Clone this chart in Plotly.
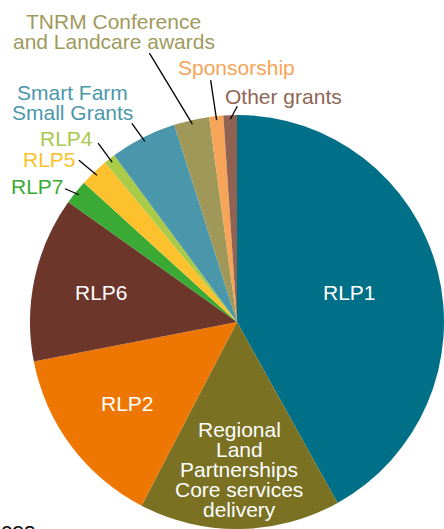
import math
import plotly.graph_objects as go

# ---------------- data ----------------
categories = ["RLP1",
              "Regional Land Partnerships Core services delivery",
              "RLP2", "RLP6", "RLP7", "RLP5", "RLP4",
              "Smart Farm Small Grants",
              "TNRM Conference and Landcare awards",
              "Sponsorship", "Other grants"]
values = [41.9, 15.7, 14.3, 12.9, 1.9, 2.25, 0.9, 5.2, 2.75, 1.1, 1.05]
label_lines = [["RLP1"],
               ["Regional", "Land", "Partnerships", "Core services", "delivery"],
               ["RLP2"], ["RLP6"], ["RLP7"], ["RLP5"], ["RLP4"],
               ["Smart Farm", "Small Grants"],
               ["TNRM Conference", "and Landcare awards"],
               ["Sponsorship"], ["Other grants"]]
slice_colors = ["#006f88", "#7a7123", "#ee7703", "#6d362b", "#3aaa35", "#fcc12d",
                "#a9cb48", "#4a96ab", "#a09858", "#f6a458", "#8f6252"]
text_colors = ["#ffffff", "#ffffff", "#ffffff", "#ffffff", "#3aaa35", "#f9c22a",
               "#a8c84a", "#4b97ac", "#a09a5c", "#f6a458", "#8f6555"]
cut_text = "ces"

# ---------------- layout / style ----------------
W, H = 444, 529
CX, CY, R = 237, 322, 207
FONT = "Arial, Liberation Sans, sans-serif"
FS = 21
LINE_H = 20
# inside labels: radius fraction
inside_r = {0: 0.56, 1: 0.715, 2: 0.66, 3: 0.67}
# outside labels: (line end dx, dy), (text dx, dy) relative to the slice tip
outside = {
    4: ((-14, -6), (-41.5, -8)),
    5: ((-18, -15), (-47, -15.5)),
    6: ((-14, -19), (-45.4, -23.5)),
    7: ((-13, -18), (-72, -39)),
    8: ((-43, -71), (-78.5, -92.5)),
    9: ((-6, -40), (20.3, -53)),
    10: ((7, -13), (52.7, -23)),
}
TIP_R = 0.98


def px(x, y):
    return x / W, 1 - y / H


fig = go.Figure(go.Pie(
    labels=categories, values=values, sort=False, direction="clockwise",
    rotation=0, textinfo="none", hoverinfo="label+percent",
    marker=dict(colors=slice_colors, line=dict(width=0)),
    domain=dict(x=[(CX - R) / W, (CX + R) / W], y=[1 - (CY + R) / H, 1 - (CY - R) / H]),
    showlegend=False,
))

total = sum(values)
annotations = []
shapes = []
cum = 0.0
for i, v in enumerate(values):
    mid = (cum + v / 2) / total * 2 * math.pi
    cum += v
    s, c = math.sin(mid), math.cos(mid)
    lines = label_lines[i]
    if i in inside_r:
        rx = CX + inside_r[i] * R * s
        ry = CY - inside_r[i] * R * c
        n = len(lines)
        for k, t in enumerate(lines):
            yy = ry + (k - (n - 1) / 2) * LINE_H
            x, y = px(rx, yy)
            annotations.append(dict(x=x, y=y, xref="paper", yref="paper", text=t,
                                    showarrow=False, xanchor="center", yanchor="middle",
                                    font=dict(family=FONT, size=FS, color=text_colors[i])))
    else:
        tx = CX + TIP_R * R * s
        ty = CY - TIP_R * R * c
        (ldx, ldy), (tdx, tdy) = outside[i]
        x0, y0 = px(tx, ty)
        x1, y1 = px(tx + ldx, ty + ldy)
        shapes.append(dict(type="line", xref="paper", yref="paper", x0=x0, y0=y0,
                           x1=x1, y1=y1, line=dict(color="black", width=1.3)))
        n = len(lines)
        for k, t in enumerate(lines):
            yy = ty + tdy + (k - (n - 1) / 2) * LINE_H
            x, y = px(tx + tdx, yy)
            annotations.append(dict(x=x, y=y, xref="paper", yref="paper", text=t,
                                    showarrow=False, xanchor="center", yanchor="middle",
                                    font=dict(family=FONT, size=FS, color=text_colors[i])))

cx_, cy_ = px(-1, 516)
annotations.append(dict(x=cx_, y=cy_, xref="paper", yref="paper", text=cut_text,
                        showarrow=False, xanchor="left", yanchor="top",
                        font=dict(family=FONT, size=22, color="black")))

fig.update_layout(
    width=W, height=H, margin=dict(l=0, r=0, t=0, b=0),
    paper_bgcolor="white", plot_bgcolor="white",
    annotations=annotations, shapes=shapes,
)
fig.write_html("out.html")
